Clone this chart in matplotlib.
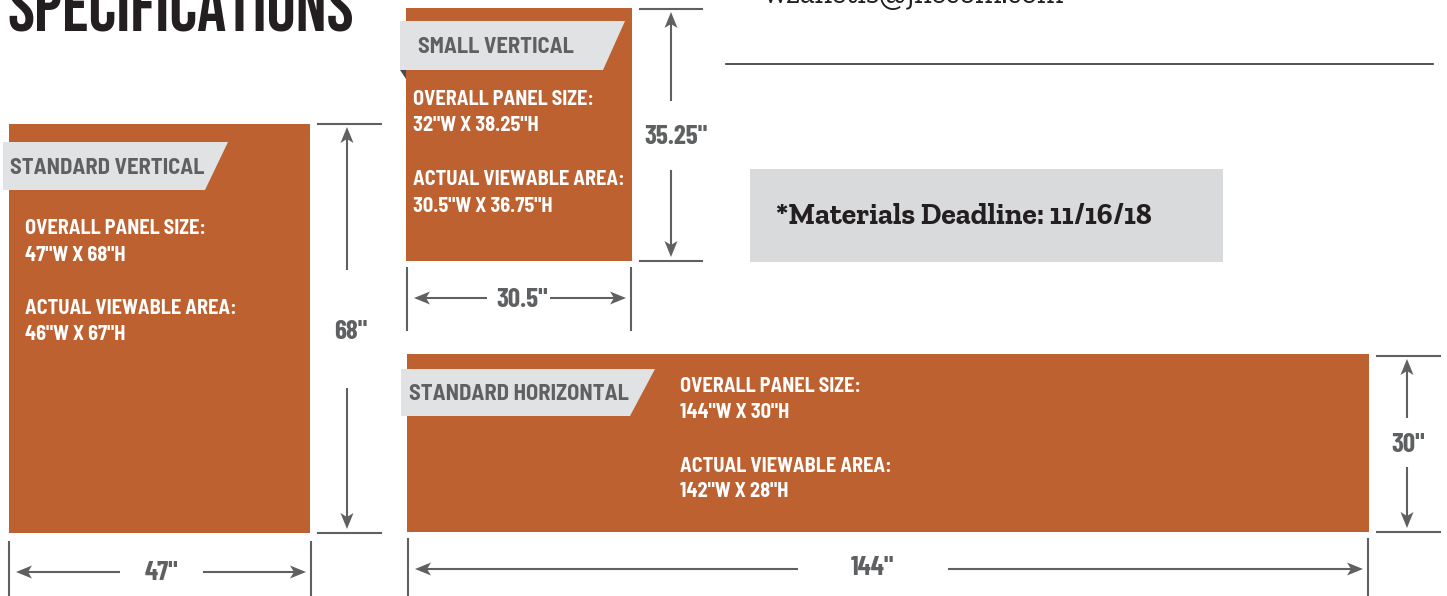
#!/usr/bin/env python3

import matplotlib
matplotlib.use("Agg")
import matplotlib.pyplot as plt
from matplotlib.patches import Rectangle, Polygon


# Data

panel_names = ["STANDARD VERTICAL", "SMALL VERTICAL", "STANDARD HORIZONTAL"]
overall_sizes = ['47"W X 68"H', '32"W X 38.25"H', '144"W X 30"H']
viewable_sizes = ['46"W X 67"H', '30.5"W X 36.75"H', '142"W X 28"H']
width_labels = ['47"', '30.5"', '144"']
height_labels = ['68"', '35.25"', '30"']

title = "SPECIFICATIONS"
email = "wzanetis@jnecom.com"
deadline = "*Materials Deadline: 11/16/18"


# Layout (pixels, y grows downward)

W, H = 1447, 596

# panel boxes: x0, y0, x1, y1
panel_boxes = [(9, 124, 310, 533), (406, 8, 632, 261), (407, 354, 1369, 532)]
# gray tag: x_left, y_top, x_right_top, x_right_bottom, y_bottom, text x, baseline
tags = [(3, 142, 228, 205, 190, 10, 174), (400, 21, 625, 603, 70, 418, 53),
        (401, 369, 655, 630, 416, 409, 400)]
# info text: x, baselines of the four lines
info_pos = [(25, [234, 261, 314, 340]), (413, [105, 131, 185, 212]),
            (680, [392, 418, 472, 497])]
# height dimension: tick x0, x1, arrow x, y top, y bottom, gap top, gap bottom, label x, baseline
height_dims = [(318, 381, 347, 124, 533, 270, 388, 351, 339),
               (640, 702, 671, 9, 261, 101, 170, 676, 144),
               (1377, 1440, 1407, 356, 532, 418, 467, 1408, 452)]
# width dimension: x left, x right, tick y0, y1, arrow y, gap left, gap right, label x, baseline
width_dims = [(9, 311, 542, 596, 572, 120, 203, 161, 580),
              (407, 631, 268, 330, 298, 487, 550, 522, 307),
              (408, 1368, 539, 596, 569, 798, 948, 872, 575)]

ORANGE = "#BD6131"
TAG = "#E1E2E4"
GRAY = "#5F6062"
BOX = "#D9DADC"
INK = "#231F20"

COND = ["Barlow Condensed", "DejaVu Sans"]
SEMI = ["Barlow Semi Condensed", "Barlow Condensed", "DejaVu Sans"]
TITLE_FONT = ["Bebas Neue", "Barlow Condensed", "DejaVu Sans"]
SLAB = ["Zilla Slab", "Arvo", "DejaVu Serif"]


def fit_width(fig, t, width):
    # scale the font size of a text so that it spans `width` pixels
    r = fig.canvas.get_renderer()
    w = t.get_window_extent(renderer=r).width
    t.set_fontsize(t.get_fontsize() * width / w)


def arrow(ax, x0, y0, x1, y1, color=GRAY):
    # line from (x0, y0) with a notched head at (x1, y1)
    dx, dy = x1 - x0, y1 - y0
    n = (dx ** 2 + dy ** 2) ** 0.5
    ux, uy = dx / n, dy / n
    px, py = -uy, ux
    L, Wd, notch = 16, 6.5, 4
    ax.plot([x0, x1 - ux * (L - notch)], [y0, y1 - uy * (L - notch)],
            color=color, lw=1.5, solid_capstyle="butt")
    head = [(x1, y1),
            (x1 - ux * L + px * Wd, y1 - uy * L + py * Wd),
            (x1 - ux * (L - notch), y1 - uy * (L - notch)),
            (x1 - ux * L - px * Wd, y1 - uy * L - py * Wd)]
    ax.add_patch(Polygon(head, closed=True, fc=color, ec="none"))


def main():
    fig = plt.figure(figsize=(W / 100, H / 100), dpi=100)
    ax = fig.add_axes([0, 0, 1, 1])
    ax.set_xlim(0, W)
    ax.set_ylim(H, 0)
    ax.axis("off")

    # Title and header
    t = ax.text(7, 31, title, family=TITLE_FONT, fontsize=44,
                color=INK, va="baseline", ha="left")
    fit_width(fig, t, 346)
    t = ax.text(764, 3, email, family=SLAB, fontsize=20, color=INK,
                va="baseline", ha="left")
    fit_width(fig, t, 300)
    ax.plot([726, 1433], [64, 64], color="#333333", lw=1.2)

    ax.add_patch(Rectangle((750, 169), 473, 93, fc=BOX, ec="none"))
    t = ax.text(776, 224, deadline, family=SLAB, weight="bold", fontsize=14.5,
                color=INK, va="baseline", ha="left")
    fit_width(fig, t, 376)

    # Panels
    for i, name in enumerate(panel_names):
        x0, y0, x1, y1 = panel_boxes[i]
        ax.add_patch(Rectangle((x0, y0), x1 - x0, y1 - y0, fc=ORANGE, ec="none"))

        tl, tt, trt, trb, tb, tx, tyb = tags[i]
        ax.add_patch(Polygon([(tl, tt), (trt, tt), (trb, tb), (tl, tb)],
                             closed=True, fc=TAG, ec="none"))
        if i == 1:
            ax.add_patch(Polygon([(tl, tb), (x0, tb), (x0, tb + 9)],
                                 closed=True, fc="#4A4B4D", ec="none"))
        ax.text(tx, tyb, name, family=SEMI, weight="bold",
                fontsize=16.2, color=GRAY, va="baseline", ha="left")

        ix, ys = info_pos[i]
        lines = ["OVERALL PANEL SIZE:", overall_sizes[i],
                 "ACTUAL VIEWABLE AREA:", viewable_sizes[i]]
        for txt, yb in zip(lines, ys):
            ax.text(ix, yb, txt, family=SEMI, weight="bold", fontsize=14.6,
                    color="white", va="baseline", ha="left")

        # height dimension
        hx0, hx1, ax_x, yt, yb, gt, gb, lx, lyb = height_dims[i]
        ax.plot([hx0, hx1], [yt, yt], color=GRAY, lw=1.5)
        ax.plot([hx0, hx1], [yb, yb], color=GRAY, lw=1.5)
        arrow(ax, ax_x, gt, ax_x, yt + 3)
        arrow(ax, ax_x, gb, ax_x, yb - 4)
        ax.text(lx, lyb, height_labels[i], family=COND,
                weight="bold", fontsize=19.5, color=GRAY, va="baseline",
                ha="center")

        # width dimension
        wl, wr, ty0, ty1, ay, gl, gr, lx, lyb = width_dims[i]
        ax.plot([wl, wl], [ty0, ty1], color=GRAY, lw=1.5)
        ax.plot([wr, wr], [ty0, ty1], color=GRAY, lw=1.5)
        arrow(ax, gl, ay, wl + 7, ay)
        arrow(ax, gr, ay, wr - 5, ay)
        ax.text(lx, lyb, width_labels[i], family=COND,
                weight="bold", fontsize=19.5, color=GRAY, va="baseline",
                ha="center")

    fig.savefig("out.png", dpi=100)
    plt.close(fig)


if __name__ == "__main__":
    main()
